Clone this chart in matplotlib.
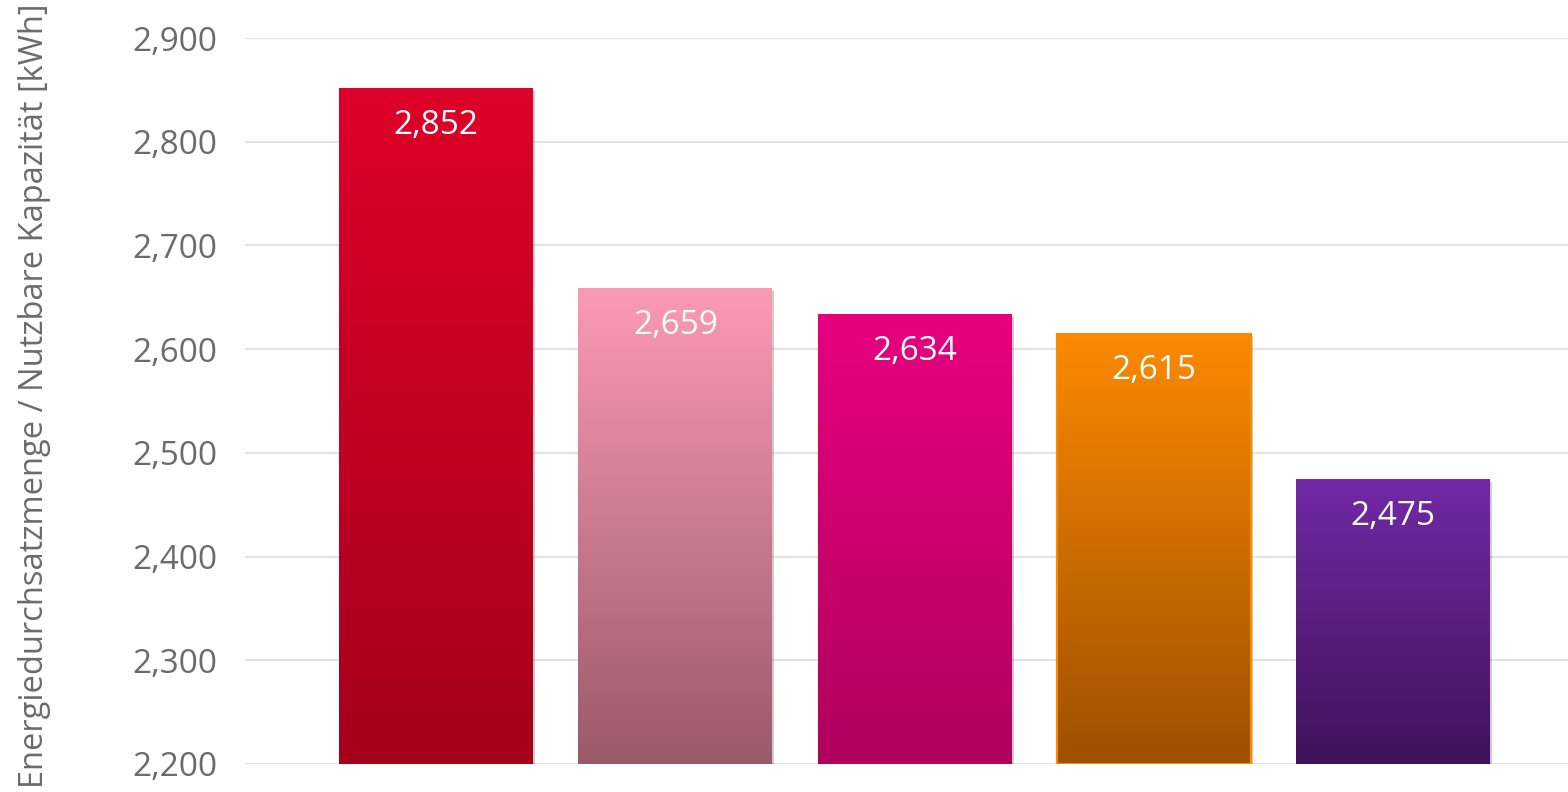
import matplotlib
matplotlib.use('Agg')
import matplotlib.pyplot as plt
import matplotlib.patheffects as pe
from matplotlib.colors import LinearSegmentedColormap
import numpy as np

plt.rcParams['font.family'] = ['Open Sans', 'DejaVu Sans']

# ---------------------------------------------------------------------------
# Data
# ---------------------------------------------------------------------------
categories = ['A', 'B', 'C', 'D', 'E']
values = [2852, 2659, 2634, 2615, 2475]
top_colors = ['#de0029', '#fc9ab4', '#e8007f', '#fb8a00', '#7329a6']
bottom_colors = ['#a5001c', '#9a5a6a', '#b0005e', '#9e5000', '#40125a']
edge_colors = ['none', 'none', 'none', '#fb8a00', 'none']
y_ticks = [2200, 2300, 2400, 2500, 2600, 2700, 2800, 2900]
y_label = 'Energiedurchsatzmenge / Nutzbare Kapazität [kWh]'

GRID = '#e3e3e3'
TEXT = '#6b6b6b'

fig = plt.figure(figsize=(15.68, 7.92), dpi=100)
ax = fig.add_axes([0.156, 0.0354, 0.844, 0.9166])
ax.set_ylim(2200, 2900)
ax.set_xlim(-0.80, 4.73)

x = np.arange(len(categories))
bars = ax.bar(x, np.array(values) - 2200, bottom=2200, width=0.81,
              color='none', edgecolor='none', zorder=3)

for i, b in enumerate(bars):
    # soft drop shadow behind each bar
    sh = plt.Rectangle((b.get_x(), b.get_y()), b.get_width(), b.get_height(),
                       facecolor='white', edgecolor='none', zorder=2)
    sh.set_path_effects([pe.SimplePatchShadow(offset=(1.5, -2), alpha=0.2,
                                              shadow_rgbFace='#000000'),
                         pe.Normal()])
    ax.add_patch(sh)
    cmap = LinearSegmentedColormap.from_list('g%d' % i,
                                             [bottom_colors[i], top_colors[i]])
    grad = np.linspace(0, 1, 256).reshape(-1, 1)
    x0, x1 = b.get_x(), b.get_x() + b.get_width()
    im = ax.imshow(grad, cmap=cmap, origin='lower', aspect='auto',
                   extent=(x0, x1, 2200, values[i]), zorder=3,
                   interpolation='bicubic')
    im.set_clip_path(b)
    if edge_colors[i] != 'none':
        ax.add_patch(plt.Rectangle((x0, 2200), b.get_width(), values[i] - 2200,
                                   facecolor='none', edgecolor=edge_colors[i],
                                   linewidth=1.5, zorder=4))
    ax.text(x[i], values[i] - 20, f'{values[i]:,}', ha='center', va='top',
            fontsize=24, color='white', zorder=5)

ax.set_xlim(-0.80, 4.73)
ax.set_ylim(2200, 2900)
ax.set_yticks(y_ticks)
ax.set_yticklabels([f'{v:,}' for v in y_ticks], fontsize=24, color=TEXT)
ax.set_xticks([])
ax.tick_params(axis='y', length=0, pad=19.5)
ax.grid(axis='y', color=GRID, linewidth=1.5, zorder=0)
ax.set_axisbelow(True)
for s in ax.spines.values():
    s.set_visible(False)

fig.text(0.022, 0.5, y_label, rotation=90, ha='center', va='center',
         fontsize=23.5, color=TEXT)

fig.savefig('out.png', dpi=100, facecolor='white')
